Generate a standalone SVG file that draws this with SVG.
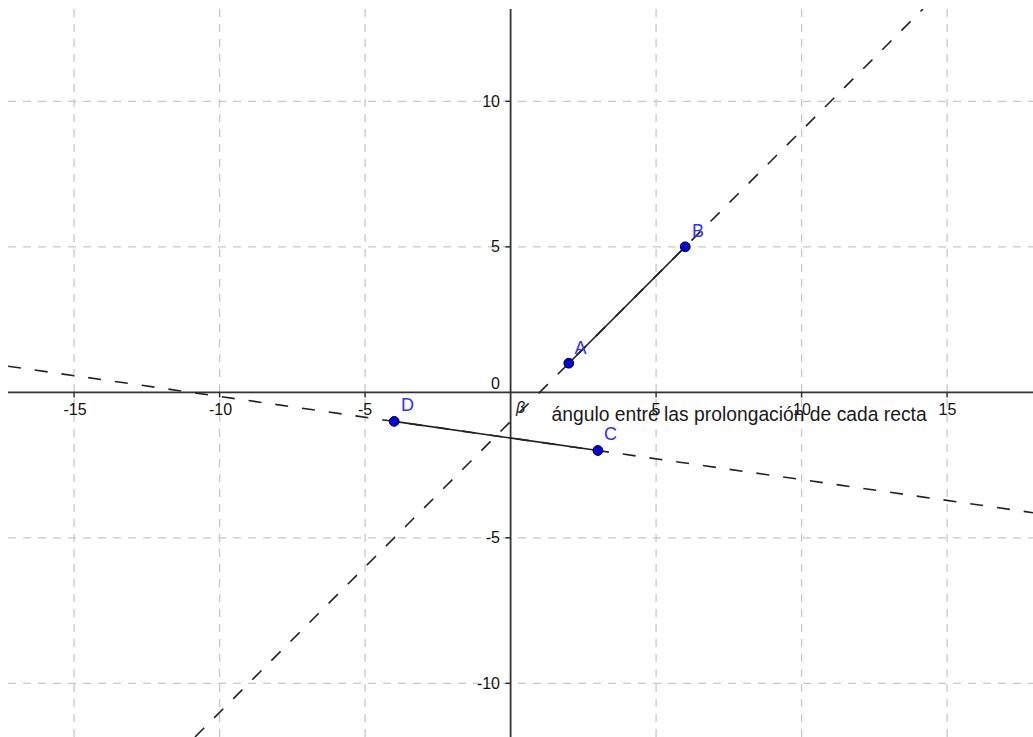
<svg xmlns="http://www.w3.org/2000/svg" width="1033" height="737" viewBox="0 0 1033 737">
<style>
.grid{stroke:#c8c8c8;stroke-width:1.3;stroke-dasharray:8 7;fill:none}
.axis{stroke:#333;stroke-width:1.8;fill:none}
.tick{stroke:#333;stroke-width:1.5}
.num{font-family:"Liberation Sans",Arial,sans-serif;font-size:16px;fill:#111}
.xn{text-anchor:middle}
.yn{text-anchor:end}
.ext{stroke:#222;stroke-width:1.6;stroke-dasharray:13 14;fill:none}
.seg{stroke:#222;stroke-width:1.6;fill:none}
.pt{fill:#0000e6;stroke:#000;stroke-width:1}
.lbl{font-family:"Liberation Sans",Arial,sans-serif;font-size:18px;fill:#3030ff}
.txt{font-family:"Liberation Sans",Arial,sans-serif;font-size:19.3px;fill:#1a1a1a}
</style>
<defs>
<clipPath id="view"><rect x="8" y="9" width="1025" height="728"/></clipPath>
</defs>
<rect width="1033" height="737" fill="#fff"/>
<g id="grid" clip-path="url(#view)">
<line class="grid" x1="74.1" y1="9" x2="74.1" y2="737"/>
<line class="grid" x1="219.6" y1="9" x2="219.6" y2="737"/>
<line class="grid" x1="365.1" y1="9" x2="365.1" y2="737"/>
<line class="grid" x1="656.1" y1="9" x2="656.1" y2="737"/>
<line class="grid" x1="801.6" y1="9" x2="801.6" y2="737"/>
<line class="grid" x1="947.1" y1="9" x2="947.1" y2="737"/>
<line class="grid" x1="8" y1="101.3" x2="1033" y2="101.3"/>
<line class="grid" x1="8" y1="246.8" x2="1033" y2="246.8"/>
<line class="grid" x1="8" y1="537.8" x2="1033" y2="537.8"/>
<line class="grid" x1="8" y1="683.3" x2="1033" y2="683.3"/>
</g>
<g id="axes">
<line class="axis" x1="8" y1="392.3" x2="1033" y2="392.3"/>
<line class="axis" x1="510.6" y1="9" x2="510.6" y2="737"/>
<line class="tick" x1="74.1" y1="392.3" x2="74.1" y2="397.5"/>
<line class="tick" x1="219.6" y1="392.3" x2="219.6" y2="397.5"/>
<line class="tick" x1="365.1" y1="392.3" x2="365.1" y2="397.5"/>
<line class="tick" x1="656.1" y1="392.3" x2="656.1" y2="397.5"/>
<line class="tick" x1="801.6" y1="392.3" x2="801.6" y2="397.5"/>
<line class="tick" x1="947.1" y1="392.3" x2="947.1" y2="397.5"/>
<line class="tick" x1="505.4" y1="101.3" x2="510.6" y2="101.3"/>
<line class="tick" x1="505.4" y1="246.8" x2="510.6" y2="246.8"/>
<line class="tick" x1="505.4" y1="537.8" x2="510.6" y2="537.8"/>
<line class="tick" x1="505.4" y1="683.3" x2="510.6" y2="683.3"/>
<text class="num xn" x="75" y="414.5">-15</text>
<text class="num xn" x="220.5" y="414.5">-10</text>
<text class="num xn" x="365" y="414.5">-5</text>
<text class="num xn" x="656" y="414.5">5</text>
<text class="num xn" x="802" y="414.5">10</text>
<text class="num xn" x="947.5" y="414.5">15</text>
<text class="num yn" x="500" y="107.3">10</text>
<text class="num yn" x="500" y="252">5</text>
<text class="num yn" x="500" y="388.5">0</text>
<text class="num yn" x="500" y="542.5">-5</text>
<text class="num yn" x="500" y="688.5">-10</text>
</g>
<g id="connectors" clip-path="url(#view)">
<line id="lineAB" class="ext" x1="195" y1="737" x2="923" y2="9"/>
<line id="lineCD" class="ext" x1="8" y1="366.2" x2="1033" y2="512.7"/>
<line id="segAB" class="seg" x1="568.8" y1="363.2" x2="685.2" y2="246.8"/>
<line id="segCD" class="seg" x1="394.2" y1="421.4" x2="597.9" y2="450.5"/>
</g>
<g id="A"><circle class="pt" cx="568.8" cy="363.2" r="4.9"/><text class="lbl" x="574.5" y="353.5">A</text></g>
<g id="B"><circle class="pt" cx="685.2" cy="246.8" r="4.9"/><text class="lbl" x="692" y="237">B</text></g>
<g id="C"><circle class="pt" cx="597.9" cy="450.5" r="4.9"/><text class="lbl" x="604" y="440">C</text></g>
<g id="D"><circle class="pt" cx="394.2" cy="421.4" r="4.9"/><text class="lbl" x="401" y="411">D</text></g>
<g id="angle">
<text x="516" y="413" font-family="'Liberation Sans',Arial,sans-serif" font-style="italic" font-size="16" fill="#222">β</text>
<text class="txt" x="551.5" y="420.5">ángulo entre las prolongación de cada recta</text>
</g>
</svg>
